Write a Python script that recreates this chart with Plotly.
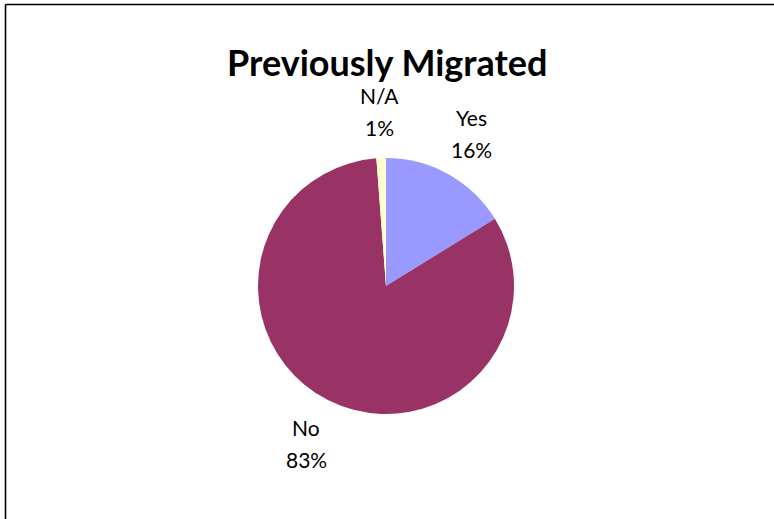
import math
import plotly.graph_objects as go

categories = ["Yes", "No", "N/A"]
values = [16.2, 82.6, 1.2]
colors = ["#9999FF", "#993366", "#FFFFCC"]
title_text = "Previously Migrated"

W, H = 774, 519
cx, cy, R = 386, 286, 128  # pixel center / radius of pie
label_r = 176
font_family = "Lato, 'Open Sans', Arial, sans-serif"

fig = go.Figure()
fig.add_trace(go.Pie(
    labels=categories,
    values=values,
    marker=dict(colors=colors, line=dict(width=0)),
    sort=False,
    direction="clockwise",
    rotation=0,
    textinfo="none",
    hoverinfo="label+percent",
    showlegend=False,
    domain=dict(x=[(cx - R) / W, (cx + R) / W],
                y=[(H - cy - R) / H, (H - cy + R) / H]),
))

total = sum(values)
cum = 0
annotations = []
for cat, v in zip(categories, values):
    mid = (cum + v / 2) / total * 2 * math.pi
    cum += v
    px = cx + label_r * math.sin(mid)
    py = cy - label_r * math.cos(mid)
    pct = f"{round(100 * v / total)}%"
    for text, off in ((cat, -15), (pct, 17)):
        annotations.append(dict(
            x=px / W, y=1 - (py + off) / H, xref="paper", yref="paper",
            text=text, showarrow=False, xanchor="center", yanchor="middle",
            font=dict(family=font_family, size=21, color="#000000"),
        ))

annotations.append(dict(
    x=387 / W, y=1 - 62 / H, xref="paper", yref="paper",
    text=f"<b>{title_text}</b>", showarrow=False, xanchor="center", yanchor="middle",
    font=dict(family=font_family, size=36, color="#000000"),
))

fig.update_layout(
    width=W, height=H,
    margin=dict(l=0, r=0, t=0, b=0),
    paper_bgcolor="white", plot_bgcolor="white",
    annotations=annotations,
    shapes=[
        dict(type="line", xref="paper", yref="paper",
             x0=5.5 / W, x1=1.01, y0=1 - 4.5 / H, y1=1 - 4.5 / H,
             line=dict(color="#000000", width=1.6)),
        dict(type="line", xref="paper", yref="paper",
             x0=5.5 / W, x1=5.5 / W, y0=1 - 4.5 / H, y1=-0.01,
             line=dict(color="#000000", width=1.6)),
    ],
)

fig.write_html("out.html",
               config={"displayModeBar": False},
               post_script="document.body.style.margin='0';document.body.style.overflow='hidden';")
